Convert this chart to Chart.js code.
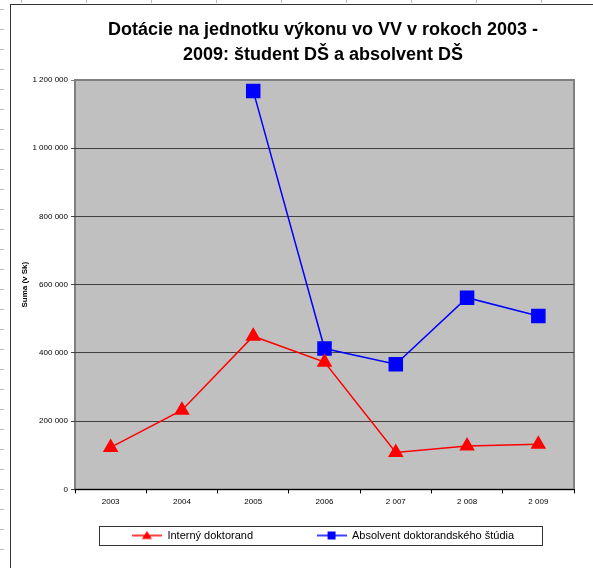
<!DOCTYPE html>
<html>
<head>
<meta charset="utf-8">
<script src="https://cdn.jsdelivr.net/npm/chart.js@4"></script>
<style>
html, body { margin: 0; padding: 0; background: #fff; overflow: hidden; width: 593px; height: 568px; }
#frame { position: absolute; left: 10px; top: 4px; width: 700px; height: 600px; border-left: 1px solid #333; border-top: 1px solid #333; }
#leftMarks { position: absolute; left: 0; top: 0; width: 4px; height: 568px;
  background: repeating-linear-gradient(to bottom, transparent 0 9px, #bbb 9px 10px, transparent 10px 20px); }
#topMarks { position: absolute; left: 0; top: 0; width: 593px; height: 3px;
  background: repeating-linear-gradient(to right, transparent 0 21px, #bbb 21px 22px, transparent 22px 65px); }
#chart { position: absolute; left: 11px; top: 5px; }
</style>
</head>
<body>
<div id="leftMarks"></div>
<div id="topMarks"></div>
<div id="frame"></div>
<canvas id="chart" width="624" height="563" style="width:624px;height:563px"></canvas>
<script>
// data
const years = ['2003', '2004', '2005', '2006', '2 007', '2 008', '2 009'];
const internyDoktorand = [123000, 232000, 449000, 373000, 108000, 127000, 132000];
const absolventDS = [null, null, 1168000, 413000, 367000, 562000, 508000];
const yMax = 1200000;
const yStep = 200000;

const FONT = "'Liberation Sans', Arial, sans-serif";

function fmt(v){
    return String(v).replace(/\B(?=(\d{3})+(?!\d))/g, ' ');
}

// small line + marker picture for the legend
function legendMark(color, shape){
    const c = document.createElement('canvas');
    c.width = 30; c.height = 14;
    const g = c.getContext('2d');
    g.strokeStyle = color; g.lineWidth = 1.5;
    g.beginPath(); g.moveTo(0, 7); g.lineTo(30, 7); g.stroke();
    g.fillStyle = color;
    if (shape === 'triangle') {
        g.beginPath(); g.moveTo(15, 2.5); g.lineTo(20, 10.5); g.lineTo(10, 10.5); g.closePath(); g.fill();
    } else {
        g.fillRect(11, 3, 8, 8);
    }
    return c;
}
const blankMark = document.createElement('canvas');
blankMark.width = 30; blankMark.height = 14;

const chartDeco = {
    id: 'chartDeco',
    beforeDraw(chart){
        const {ctx, chartArea: a} = chart;
        ctx.save();
        ctx.fillStyle = '#c0c0c0';
        ctx.fillRect(a.left, a.top, a.width, a.height);
        ctx.strokeStyle = '#808080';
        ctx.lineWidth = 2;
        ctx.strokeRect(a.left, a.top, a.width, a.height);
        ctx.restore();
    },
    afterDraw(chart){
        const hb = chart.legend.legendHitBoxes;
        if (!hb || !hb.length) return;
        const last = hb[hb.length - 1];
        const left = hb[0].left - 33;
        const right = last.left + last.width + 28;
        const top = hb[0].top - 4;
        const bottom = hb[0].top + hb[0].height + 4;
        const ctx = chart.ctx;
        ctx.save();
        ctx.strokeStyle = '#333';
        ctx.lineWidth = 1;
        ctx.strokeRect(Math.round(left) + 0.5, Math.round(top) + 0.5, Math.round(right - left), Math.round(bottom - top));
        ctx.restore();
    }
};

const ctx = document.getElementById('chart').getContext('2d');
new Chart(ctx, {
    type: 'line',
    data: {
        labels: years,
        datasets: [
            { label: 'Interný doktorand', data: internyDoktorand, borderColor: '#ff0000', backgroundColor: '#ff0000',
              borderWidth: 1.5, pointStyle: 'triangle', pointRadius: 7.5, pointHoverRadius: 7.5, tension: 0 },
            { label: 'Absolvent doktorandského štúdia', data: absolventDS, borderColor: '#0000ff', backgroundColor: '#0000ff',
              borderWidth: 1.5, pointStyle: 'rect', pointRadius: 9.2, pointHoverRadius: 9.2, tension: 0 }
        ]
    },
    options: {
        responsive: false,
        animation: false,
        layout: { padding: { left: 0, right: 0, top: 0, bottom: 17 } },
        plugins: {
            title: {
                display: true,
                text: ['Dotácie na jednotku výkonu vo VV v rokoch 2003 -', '2009: študent DŠ a absolvent DŠ'],
                color: '#000',
                font: { family: FONT, size: 18, weight: 'bold', lineHeight: 25 / 18 },
                padding: { top: 12.5, bottom: 12.5 }
            },
            legend: {
                position: 'bottom',
                labels: {
                    color: '#000',
                    font: { family: FONT, size: 11 },
                    usePointStyle: true,
                    pointStyleWidth: 30,
                    padding: 14,
                    generateLabels(chart){
                        const items = Chart.defaults.plugins.legend.labels.generateLabels(chart);
                        items[0].pointStyle = legendMark('#ff0000', 'triangle');
                        items[1].pointStyle = legendMark('#0000ff', 'rect');
                        const spacer = { text: '', pointStyle: blankMark, fillStyle: 'rgba(0,0,0,0)',
                                         strokeStyle: 'rgba(0,0,0,0)', lineWidth: 0, hidden: false, datasetIndex: -1 };
                        return [items[0], spacer, items[1]];
                    }
                },
                onClick(){}
            },
            tooltip: { enabled: false }
        },
        scales: {
            x: {
                offset: true,
                grid: { offset: true, drawOnChartArea: false, drawTicks: true, tickLength: 4, color: '#000' },
                border: { display: true, color: '#000', width: 1 },
                ticks: { color: '#000', font: { family: FONT, size: 8 }, padding: 4, maxRotation: 0, autoSkip: false },
                afterFit(scale){ scale.height += 5; }
            },
            y: {
                min: 0,
                max: yMax,
                grid: { color: c => (c.tick && c.tick.value === yMax) ? '#808080' : '#404040', lineWidth: 1, tickLength: 4 },
                border: { display: false },
                ticks: { stepSize: yStep, color: '#000', font: { family: FONT, size: 8 }, padding: 3,
                         callback: v => fmt(v) },
                title: { display: true, text: 'Suma (v Sk)', color: '#000',
                         font: { family: FONT, size: 8, weight: 'bold' }, padding: { top: 9, bottom: 2 } },
                afterFit(scale){ scale.width = 64; }
            },
            // empty right-hand strip so the plot ends where the original's does
            yRight: {
                position: 'right',
                grid: { display: false },
                border: { display: false },
                ticks: { display: false },
                afterFit(scale){ scale.width = 61; }
            }
        }
    },
    plugins: [chartDeco]
});
</script>
</body>
</html>
